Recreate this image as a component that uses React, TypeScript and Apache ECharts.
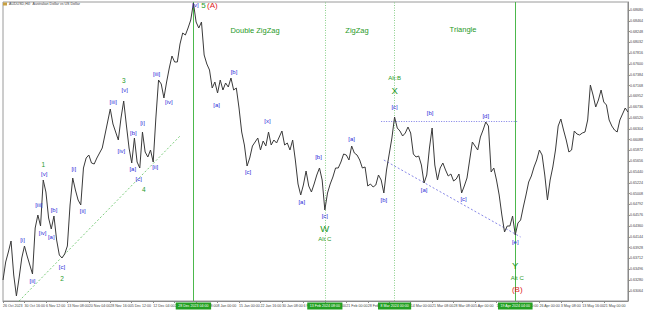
import React, { useEffect, useRef } from 'react';
import * as echarts from 'echarts';

const prices = [
  0.6328, 0.6364, 0.6384, 0.6406, 0.6338, 0.6296, 0.6332, 0.6372, 0.6396, 0.6376,
  0.6358, 0.6340, 0.6432, 0.6458, 0.6436, 0.6528, 0.6504, 0.6452, 0.6430, 0.6456,
  0.6408, 0.6378, 0.6372, 0.6380, 0.6396, 0.6478, 0.6532, 0.6508, 0.6488, 0.6478,
  0.6552, 0.6572, 0.6578, 0.6562, 0.6560, 0.6572, 0.6582, 0.6592, 0.6618, 0.6644,
  0.6670, 0.6640, 0.6624, 0.6608, 0.6652, 0.6686, 0.6638, 0.6592, 0.6562, 0.6612,
  0.6564, 0.6552, 0.6624, 0.6584, 0.6574, 0.6588, 0.6564, 0.6652, 0.6728, 0.6720,
  0.6692, 0.6724, 0.6752, 0.6776, 0.6764, 0.6764, 0.6800, 0.6822, 0.6818, 0.6832,
  0.6848, 0.6882, 0.6844, 0.6832, 0.6844, 0.6778, 0.6760, 0.6748, 0.6712, 0.6724,
  0.6702, 0.6728, 0.6708, 0.6722, 0.6714, 0.6732, 0.6708, 0.6712, 0.6672, 0.6624,
  0.6598, 0.6556, 0.6572, 0.6596, 0.6604, 0.6612, 0.6588, 0.6606, 0.6596, 0.6624,
  0.6598, 0.6608, 0.6602, 0.6614, 0.6626, 0.6598, 0.6602, 0.6588, 0.6608, 0.6568,
  0.6520, 0.6498, 0.6518, 0.6546, 0.6516, 0.6504, 0.6520, 0.6538, 0.6552, 0.6528,
  0.6468, 0.6502, 0.6520, 0.6534, 0.6552, 0.6552, 0.6564, 0.6580, 0.6578, 0.6568,
  0.6596, 0.6582, 0.6578, 0.6568, 0.6552, 0.6554, 0.6516, 0.6520, 0.6514, 0.6518,
  0.6538, 0.6528, 0.6502, 0.6548, 0.6580, 0.6612, 0.6654, 0.6632, 0.6626, 0.6616,
  0.6622, 0.6634, 0.6622, 0.6580, 0.6574, 0.6576, 0.6558, 0.6522, 0.6538, 0.6592,
  0.6632, 0.6558, 0.6528, 0.6552, 0.6562, 0.6548, 0.6536, 0.6540, 0.6526, 0.6530,
  0.6540, 0.6502, 0.6516, 0.6532, 0.6568, 0.6604, 0.6596, 0.6588, 0.6614, 0.6628,
  0.6644, 0.6636, 0.6544, 0.6552, 0.6528, 0.6498, 0.6458, 0.6424, 0.6436, 0.6436,
  0.6456, 0.6418, 0.6442, 0.6448, 0.6474, 0.6498, 0.6524, 0.6536, 0.6554, 0.6568,
  0.6588, 0.6578, 0.6538, 0.6488, 0.6528, 0.6554, 0.6588, 0.6636, 0.6650, 0.6628,
  0.6608, 0.6584, 0.6588, 0.6626, 0.6620, 0.6618, 0.6622, 0.6624, 0.6648, 0.6718,
  0.6698, 0.6674, 0.6688, 0.6708, 0.6684, 0.6678, 0.6648, 0.6636, 0.6628, 0.6624,
  0.6648, 0.6660, 0.6672, 0.6664,
];

// date tick labels, one every 8 sampled bars
const dateTicks = [
  '26 Oct 2023', '30 Oct 16:00', '6 Nov 12:00', '13 Nov 08:00', '20 Nov 04:00',
  '28 Nov 16:00', '5 Dec 12:00', '12 Dec 04:00', '20 Dec 00:00', '29 Dec 08:00',
  '8 Jan 00:00', '15 Jan 00:00', '22 Jan 16:00', '30 Jan 08:00', '6 Feb 04:00',
  '13 Feb 20:00', '21 Feb 00:00', '28 Feb 16:00', '6 Mar 12:00', '14 Mar 00:00',
  '21 Mar 08:00', '28 Mar 08:00', '5 Apr 00:00', '12 Apr 16:00', '19 Apr 20:00',
  '26 Apr 00:00', '3 May 08:00', '13 May 16:00', '21 May 00:00', '28 May 00:00',
];
const TICK_EVERY = 8;

// price tick labels on the right scale
const priceTicks = [
  0.68680, 0.68464, 0.68248, 0.68032, 0.67816, 0.67600, 0.67384, 0.67168, 0.66952,
  0.66736, 0.66520, 0.66304, 0.66088, 0.65872, 0.65656, 0.65440, 0.65224, 0.65008,
  0.64792, 0.64576, 0.64360, 0.64144, 0.63928, 0.63712, 0.63496, 0.63280, 0.63064,
];
const priceMin = 0.6286;
const priceMax = 0.6884;

// wave labels: [bar index, text, style]
const waveLabels: [number, string, string][] = [
  [8, '[i]', 'b'], [11, '[ii]', 'b'], [13, '[iii]', 'b'], [14, '[iv]', 'b'],
  [15, '[v]', 'b'], [15, '1', 'g'],
  [18, '[a]', 'b'], [19, '[b]', 'b'], [22, '[c]', 'b'], [22, '2', 'g'],
  [26, '[i]', 'b'], [29, '[ii]', 'b'], [40, '[iii]', 'b'], [43, '[iv]', 'b'],
  [45, '[v]', 'b'], [45, '3', 'g'],
  [48, '[a]', 'b'], [49, '[b]', 'b'], [51, '[c]', 'b'], [51, '4', 'g'],
  [52, '[i]', 'b'], [56, '[ii]', 'b'], [58, '[iii]', 'b'], [60, '[iv]', 'b'],
  [71, '[v]', 'b'], [71, '5', 'g5'], [71, '(A)', 'r'],
  [80, '[a]', 'b'], [85, '[b]', 'b'], [91, '[c]', 'b'], [99, '[x]', 'b'],
  [111, '[a]', 'b'], [118, '[b]', 'b'],
  [120, '[c]', 'b'], [120, 'W', 'G'], [120, 'Alt C', 's'],
  [130, '[a]', 'b'], [142, '[b]', 'b'],
  [146, '[c]', 'b'], [146, 'X', 'G'], [146, 'Alt:B', 's'],
  [157, '[a]', 'b'], [160, '[b]', 'b'], [171, '[c]', 'b'], [180, '[d]', 'b'],
  [191, '[e]', 'b'], [191, 'Y', 'G'], [191, 'Alt C', 's'], [191, '(B)', 'r'],
];
// pixel offsets of each wave label centre from its bar (layout only)
const waveOffsets: [number, number][] = [
  [-2, -6], [0, 7], [1, -10], [2, 7],
  [1, -6], [0, -16],
  [0, 8], [0, -6], [0, 9], [0, 20],
  [1, -9], [2, 6], [3, -7], [3, 11],
  [1, -11], [0, -21],
  [1, 6], [-1, -5], [-1, 11], [4, 21],
  [0, -9], [2, 5], [-2, -6], [5, 4],
  [2, 1.5], [10, 2], [19, 2],
  [-1, 12], [3, -6], [1, 6], [-1, -11],
  [1, 7], [-1, -11],
  [0, 6], [0, 18], [0, 29],
  [0, -7], [0, 7],
  [0, -10], [0, -27], [0, -39],
  [0, 7], [-2, -15], [2, 6], [0, -6],
  [0, 7], [0, 30], [2, 43], [2, 54],
];

const verticalLines: [number, string, string][] = [
  [71, '28 Dec 2023 04:00', 'solid'],
  [120, '13 Feb 2024 08:00', 'dotted'],
  [146, '8 Mar 2024 00:00', 'dotted'],
  [191, '19 Apr 2024 04:00', 'solid'],
];

const trendLine: [number, number][] = [[6, 0.6286], [66, 0.6616]];
const triangleTop: [number, number][] = [[141, 0.6646], [192, 0.6646]];
const triangleBottom: [number, number][] = [[142, 0.6568], [193, 0.6414]];

const sectionTitles: [string, number, number][] = [
  ['Double ZigZag', 255, 30],
  ['ZigZag', 357, 30],
  ['Triangle', 463, 29],
];

const FONT = 'Liberation Sans, Arial, sans-serif';
const BLUE = '#2a2ad8';
const GREEN = '#1f9a1f';
const RED = '#e0201a';

const labelStyles: Record<string, any> = {
  b: { color: BLUE, fontSize: 6 },
  g: { color: GREEN, fontSize: 6.5 },
  g5: { color: GREEN, fontSize: 8 },
  G: { color: GREEN, fontSize: 9.5 },
  s: { color: GREEN, fontSize: 6 },
  r: { color: RED, fontSize: 8 },
};

export default function App() {
  const ref = useRef<HTMLDivElement>(null);
  useEffect(() => {
    if (!ref.current) return;
    const chart = echarts.init(ref.current, undefined, { renderer: 'svg' });
    const cats = prices.map((_, i) => String(i));

    const labelData = waveLabels.map(([idx, text, st], k) => ({
      value: [idx, prices[idx]],
      label: {
        show: true,
        position: [0.5 + waveOffsets[k][0], 0.5 + waveOffsets[k][1]],
        align: 'center',
        verticalAlign: 'middle',
        formatter: text,
        fontFamily: FONT,
        textBorderWidth: 0,
        opacity: 1,
        ...labelStyles[st],
      },
    }));

    const vLineSeries = verticalLines.map(([idx, text, type]) => ({
      type: 'line',
      data: [],
      silent: true,
      z: 4,
      markLine: {
        silent: true,
        symbol: ['none', 'none'],
        animation: false,
        lineStyle: type === 'solid'
          ? { color: '#4cb84c', width: 1, type: [400, 0.01] }
          : { color: '#6cc46c', width: 0.8, type: [1, 1.5] },
        label: {
          show: true, position: 'start', formatter: text, distance: 1.5,
          backgroundColor: '#22a022', color: '#ffffff', fontSize: 3.6,
          padding: [1.5, 2.5], fontFamily: FONT,
        },
        data: [{ xAxis: idx }],
      },
    }));

    chart.setOption({
      animation: false,
      backgroundColor: '#ffffff',
      grid: {
        left: 2, right: 18, top: 2, bottom: 9,
        show: true, borderColor: '#9a9a9a', borderWidth: 1,
      },
      xAxis: {
        type: 'category',
        data: cats,
        boundaryGap: false,
        axisLine: { lineStyle: { color: '#8a8a8a', width: 1 } },
        axisTick: {
          show: true, length: 2, interval: (i: number) => i % TICK_EVERY === 0,
          lineStyle: { color: '#8a8a8a' },
        },
        axisLabel: {
          interval: (i: number) => i % TICK_EVERY === 0,
          formatter: (_v: string, i: number) => dateTicks[i / TICK_EVERY] ?? '',
          align: 'left',
          fontSize: 3.6,
          color: '#444',
          margin: 2.5,
          fontFamily: FONT,
        },
        splitLine: { show: false },
      },
      yAxis: {
        type: 'value',
        position: 'right',
        min: priceMin,
        max: priceMax,
        axisLine: { show: true, lineStyle: { color: '#8a8a8a', width: 1 } },
        axisTick: { show: true, length: 2, customValues: priceTicks, lineStyle: { color: '#8a8a8a' } },
        axisLabel: {
          customValues: priceTicks,
          formatter: (v: number) => v.toFixed(5),
          fontSize: 3.6,
          color: '#444',
          margin: 2,
          fontFamily: FONT,
        },
        splitLine: { show: false },
      },
      graphic: [
        { type: 'rect', shape: { x: 3, y: 2.5, width: 4, height: 3 }, style: { fill: '#c8a040' } },
        {
          type: 'text', x: 9, y: 4,
          style: {
            text: 'AUDUSD,H4:  Australian Dollar vs US Dollar', fontSize: 3.6, fill: '#444',
            fontFamily: FONT, verticalAlign: 'middle',
          },
        },
        ...sectionTitles.map(([t, x, y]) => ({
          type: 'text', x, y,
          style: {
            text: t, fontSize: 7.5, fill: GREEN, fontFamily: FONT,
            align: 'center', verticalAlign: 'middle',
          },
        })),
      ],
      series: [
        ...vLineSeries,
        {
          type: 'line',
          data: prices,
          showSymbol: false,
          lineStyle: { color: '#3a3a3a', width: 1 },
          z: 5,
          markLine: {
            silent: true,
            symbol: ['none', 'none'],
            animation: false,
            data: [
              [
                { coord: trendLine[0], lineStyle: { color: '#5cc05c', width: 0.8, type: [2, 2] }, label: { show: false } },
                { coord: trendLine[1] },
              ],
              [
                { coord: triangleTop[0], lineStyle: { color: '#5a5ae0', width: 0.8, type: [1, 1.5] }, label: { show: false } },
                { coord: triangleTop[1] },
              ],
              [
                { coord: triangleBottom[0], lineStyle: { color: '#6a6ae0', width: 0.8, type: [2, 2] }, label: { show: false } },
                { coord: triangleBottom[1] },
              ],
            ],
          },
        },
        {
          type: 'scatter',
          data: labelData,
          symbolSize: 1,
          itemStyle: { color: 'transparent', opacity: 1 },
          silent: true,
          z: 6,
        },
      ],
    });
    return () => chart.dispose();
  }, []);
  return (
    <div
      ref={ref}
      style={{ position: 'fixed', left: 0, top: 0, width: 650, height: 310, background: '#fff' }}
    />
  );
}
